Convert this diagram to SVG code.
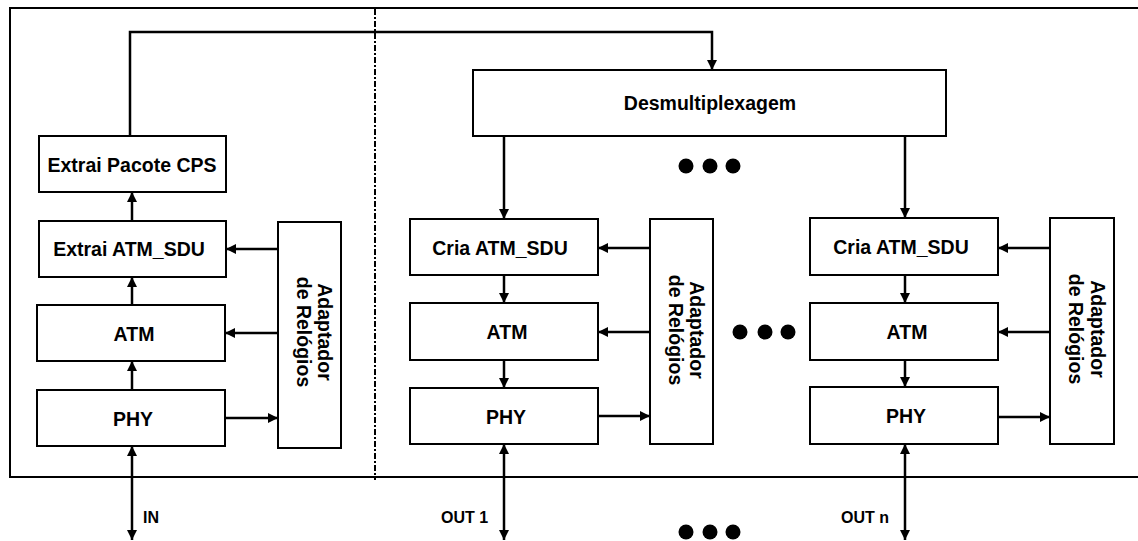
<svg xmlns="http://www.w3.org/2000/svg" width="1138" height="541" viewBox="0 0 1138 541">
<defs>
<style>
.box{fill:#fff;stroke:#000;stroke-width:2}
.lbl{font-family:"Liberation Sans",Arial,sans-serif;font-weight:bold;font-size:19.5px;fill:#000;text-anchor:middle}
.io{font-family:"Liberation Sans",Arial,sans-serif;font-weight:bold;font-size:16px;fill:#000}
.con{fill:none;stroke:#000;stroke-width:2.5}
.arr{marker-end:url(#ah)}
.bi{marker-end:url(#ah);marker-start:url(#ah)}
.dot{fill:#000}
</style>
<marker id="ah" markerUnits="userSpaceOnUse" markerWidth="10" markerHeight="10" refX="10" refY="5" orient="auto-start-reverse">
<path d="M0,0 L10,5 L0,10 z" fill="#000"/>
</marker>
</defs>
<rect width="1138" height="541" fill="#fff"/>
<g id="frame">
<path d="M1138,8 H10 V477 H1138" fill="none" stroke="#000" stroke-width="2"/>
<line x1="375" y1="9" x2="375" y2="480" stroke="#000" stroke-width="2" stroke-dasharray="6,2,2,2"/>
</g>
<g id="connectors">
<path class="con arr" d="M130,136 V32 H712 V70"/>
<path class="con arr" d="M132,221 V192"/>
<path class="con arr" d="M132,305 V277"/>
<path class="con arr" d="M132,390 V361"/>
<path class="con arr" d="M278,249 H226"/>
<path class="con arr" d="M278,333 H225"/>
<path class="con arr" d="M225,418 H278"/>
<path class="con bi" d="M132,446 V540"/>
<path class="con arr" d="M504,136 V219"/>
<path class="con arr" d="M504,275 V303"/>
<path class="con arr" d="M504,360 V388"/>
<path class="con arr" d="M650,248 H598"/>
<path class="con arr" d="M650,332 H598"/>
<path class="con arr" d="M598,416 H650"/>
<path class="con bi" d="M504,444 V540"/>
<path class="con arr" d="M905,136 V218"/>
<path class="con arr" d="M905,275 V303"/>
<path class="con arr" d="M905,360 V387"/>
<path class="con arr" d="M1050,248 H998"/>
<path class="con arr" d="M1050,332 H998"/>
<path class="con arr" d="M998,417 H1050"/>
<path class="con bi" d="M905,444 V540"/>
</g>
<g id="extrai-cps"><rect class="box" x="39" y="136" width="187" height="56"/><text class="lbl" x="132" y="172">Extrai Pacote CPS</text></g>
<g id="extrai-sdu"><rect class="box" x="39" y="221" width="187" height="56"/><text class="lbl" x="129" y="256">Extrai ATM_SDU</text></g>
<g id="atm-in"><rect class="box" x="37" y="305" width="188" height="56"/><text class="lbl" x="134" y="341">ATM</text></g>
<g id="phy-in"><rect class="box" x="37" y="390" width="188" height="56"/><text class="lbl" x="133" y="426">PHY</text></g>
<g id="adapt-in"><rect class="box" x="278" y="222" width="63" height="226"/>
<text class="lbl" transform="translate(318,332) rotate(90)">Adaptador</text>
<text class="lbl" transform="translate(297,332) rotate(90)">de Relógios</text></g>
<g id="demux"><rect class="box" x="473" y="70" width="473" height="66"/><text class="lbl" x="710" y="110">Desmultiplexagem</text></g>
<g id="cria-1"><rect class="box" x="410" y="219" width="188" height="56"/><text class="lbl" x="500" y="255">Cria ATM_SDU</text></g>
<g id="atm-1"><rect class="box" x="410" y="303" width="188" height="57"/><text class="lbl" x="507" y="339">ATM</text></g>
<g id="phy-1"><rect class="box" x="410" y="388" width="188" height="56"/><text class="lbl" x="506" y="424">PHY</text></g>
<g id="adapt-1"><rect class="box" x="650" y="219" width="63" height="225"/>
<text class="lbl" transform="translate(690,330) rotate(90)">Adaptador</text>
<text class="lbl" transform="translate(669,330) rotate(90)">de Relógios</text></g>
<g id="cria-n"><rect class="box" x="810" y="218" width="188" height="57"/><text class="lbl" x="901" y="254">Cria ATM_SDU</text></g>
<g id="atm-n"><rect class="box" x="810" y="303" width="188" height="57"/><text class="lbl" x="907" y="339">ATM</text></g>
<g id="phy-n"><rect class="box" x="810" y="387" width="188" height="57"/><text class="lbl" x="906" y="423">PHY</text></g>
<g id="adapt-n"><rect class="box" x="1050" y="218" width="64" height="226"/>
<text class="lbl" transform="translate(1091,329) rotate(90)">Adaptador</text>
<text class="lbl" transform="translate(1069,329) rotate(90)">de Relógios</text></g>
<g id="labels">
<text class="io" x="143" y="523">IN</text>
<text class="io" x="441" y="523">OUT 1</text>
<text class="io" x="841" y="523">OUT n</text>
</g>
<g id="ellipses">
<circle class="dot" cx="686" cy="166" r="7.5"/><circle class="dot" cx="710" cy="166" r="7.5"/><circle class="dot" cx="733" cy="166" r="7.5"/>
<circle class="dot" cx="740" cy="332" r="7.5"/><circle class="dot" cx="765" cy="332" r="7.5"/><circle class="dot" cx="788" cy="332" r="7.5"/>
<circle class="dot" cx="686" cy="532" r="7.5"/><circle class="dot" cx="710" cy="532" r="7.5"/><circle class="dot" cx="733" cy="532" r="7.5"/>
</g>
</svg>
